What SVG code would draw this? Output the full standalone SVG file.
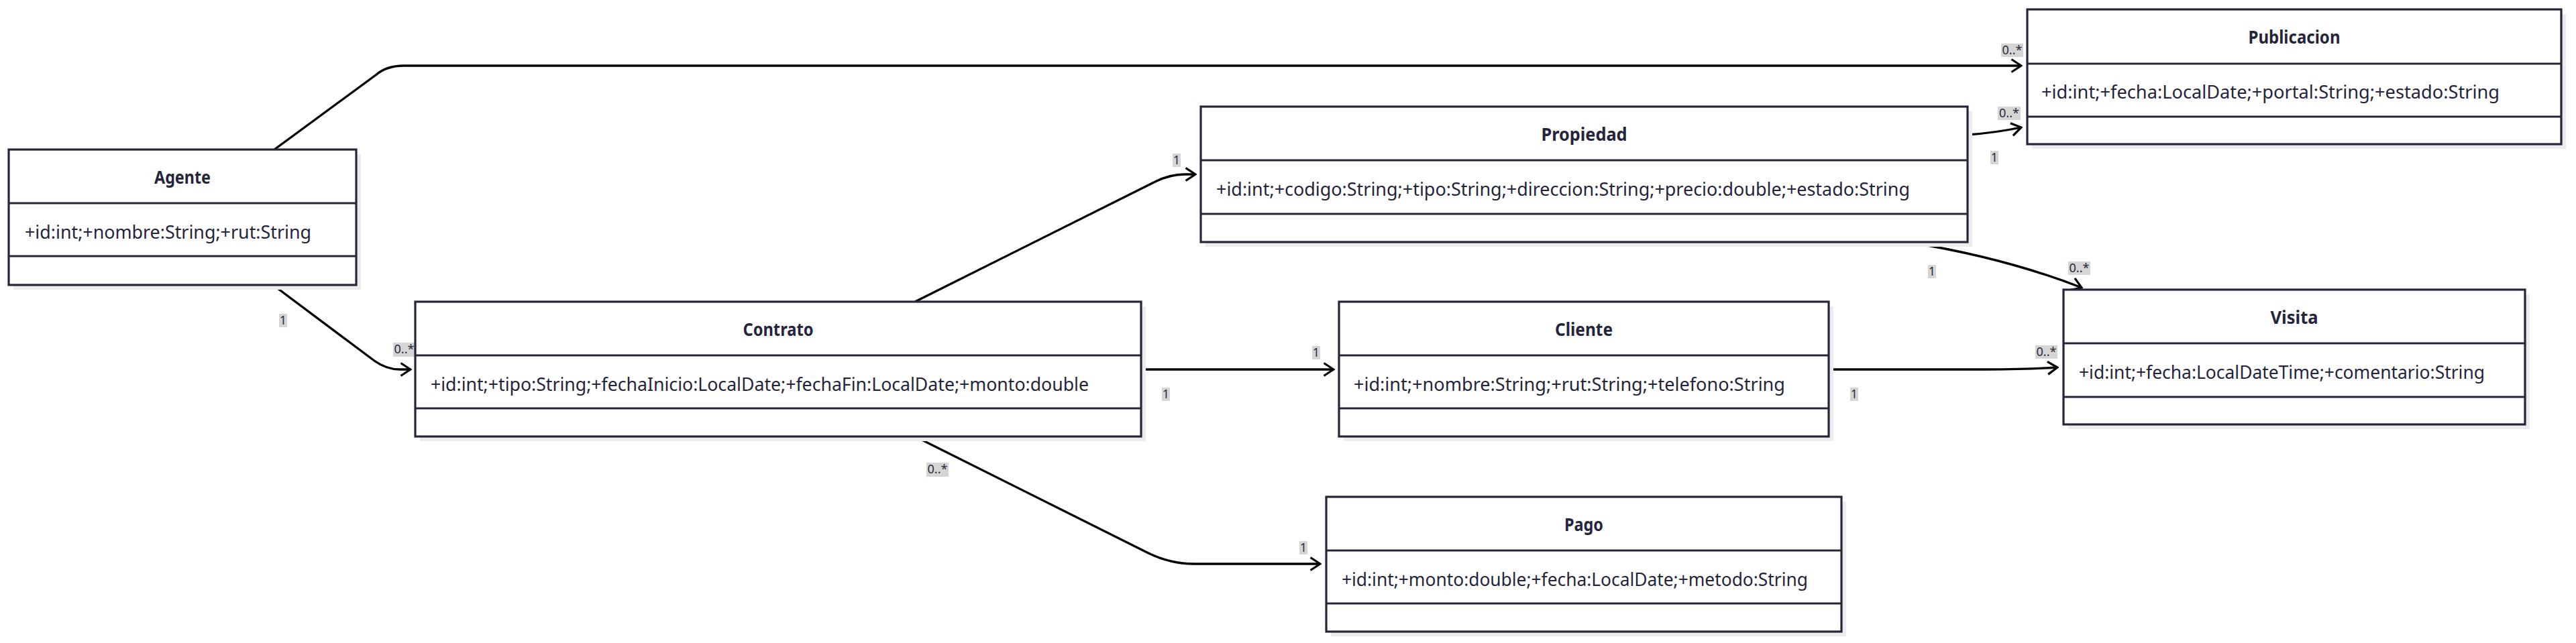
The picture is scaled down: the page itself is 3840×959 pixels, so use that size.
<svg xmlns="http://www.w3.org/2000/svg" width="3840" height="959" viewBox="0 0 3840 959">
<style>
.bg{fill:#ffffff}
.shadow{fill:#ececec}
.box{fill:#ffffff;stroke:#26263a;stroke-width:3.2}
.div{stroke:#26263a;stroke-width:3.2}
.title{font-family:"Noto Sans","Liberation Sans",sans-serif;font-weight:bold;font-size:27px;fill:#24243a;text-anchor:middle}
.mem{font-family:"Noto Sans","Liberation Sans",sans-serif;font-size:27px;fill:#24243a}
.edge{fill:none;stroke:#000000;stroke-width:3.3}
.lblbg{fill:#d5d5d5}
.lbl{font-family:"Noto Sans","Liberation Sans",sans-serif;font-size:18px;fill:#2a2a3a;text-anchor:middle}
</style>
<defs>
<marker id="arr" markerUnits="userSpaceOnUse" viewBox="0 0 18 22" refX="16" refY="11" markerWidth="18" markerHeight="22" orient="auto">
<path d="M1.5,1.5 L16,11 L1.5,20.5" fill="none" stroke="#000000" stroke-width="3.2"/>
</marker>
</defs>
<rect class="bg" x="0" y="0" width="3840" height="959"/>

<g id="connectors">
<path class="edge" marker-end="url(#arr)" d="M409,223 L560,112 Q576,98 602,98 L3013,98"/>
<path class="edge" marker-end="url(#arr)" d="M407,425 L558,538 Q576,551 596,551 L612,551"/>
<path class="edge" marker-end="url(#arr)" d="M1364,450 L1722,271 Q1744,260 1766,260 L1782,260"/>
<path class="edge" marker-end="url(#arr)" d="M1701,551 L1988,551"/>
<path class="edge" marker-end="url(#arr)" d="M1364,651 L1712,825 Q1745,841 1780,841 L1968,841"/>
<path class="edge" marker-end="url(#arr)" d="M2933,201 Q2975,198 3013,190"/>
<path class="edge" marker-end="url(#arr)" d="M2850,362 Q2990,385 3103,429"/>
<path class="edge" marker-end="url(#arr)" d="M2727,551 L2960,551 Q3020,551 3067,548"/>
</g>

<g id="labels">
<rect class="lblbg" x="2983" y="65" width="33" height="20"/><text class="lbl" x="2999.5" y="81" textLength="30" lengthAdjust="spacingAndGlyphs">0..*</text>
<rect class="lblbg" x="2978" y="159" width="34" height="20"/><text class="lbl" x="2995" y="175" textLength="30" lengthAdjust="spacingAndGlyphs">0..*</text>
<rect class="lblbg" x="2967" y="225" width="12" height="20"/><text class="lbl" x="2973" y="241">1</text>
<rect class="lblbg" x="1748" y="229" width="12" height="20"/><text class="lbl" x="1754" y="245">1</text>
<rect class="lblbg" x="2874" y="395" width="12" height="20"/><text class="lbl" x="2880" y="411">1</text>
<rect class="lblbg" x="3083" y="390" width="33" height="20"/><text class="lbl" x="3099.5" y="406" textLength="30" lengthAdjust="spacingAndGlyphs">0..*</text>
<rect class="lblbg" x="3034" y="515" width="33" height="20"/><text class="lbl" x="3050.5" y="531" textLength="30" lengthAdjust="spacingAndGlyphs">0..*</text>
<rect class="lblbg" x="2758" y="578" width="12" height="20"/><text class="lbl" x="2764" y="594">1</text>
<rect class="lblbg" x="416" y="468" width="12" height="20"/><text class="lbl" x="422" y="484">1</text>
<rect class="lblbg" x="586" y="511" width="33" height="21"/><text class="lbl" x="602.5" y="527" textLength="30" lengthAdjust="spacingAndGlyphs">0..*</text>
<rect class="lblbg" x="1956" y="516" width="12" height="20"/><text class="lbl" x="1962" y="532">1</text>
<rect class="lblbg" x="1732" y="578" width="12" height="20"/><text class="lbl" x="1738" y="594">1</text>
<rect class="lblbg" x="1381" y="690" width="33" height="21"/><text class="lbl" x="1397.5" y="706" textLength="30" lengthAdjust="spacingAndGlyphs">0..*</text>
<rect class="lblbg" x="1937" y="807" width="12" height="20"/><text class="lbl" x="1943" y="823">1</text>
</g>

<g id="Agente">
<rect class="shadow" x="20" y="230" width="518" height="202"/>
<rect class="box" x="13" y="223" width="518" height="202"/>
<line class="div" x1="13" y1="303" x2="531" y2="303"/>
<line class="div" x1="13" y1="382" x2="531" y2="382"/>
<text class="title" x="272" y="274" textLength="84" lengthAdjust="spacingAndGlyphs">Agente</text>
<text class="mem" x="37" y="356" textLength="427" lengthAdjust="spacingAndGlyphs">+id:int;+nombre:String;+rut:String</text>
</g>

<g id="Contrato">
<rect class="shadow" x="626" y="457" width="1082" height="201"/>
<rect class="box" x="619" y="450" width="1082" height="201"/>
<line class="div" x1="619" y1="530" x2="1701" y2="530"/>
<line class="div" x1="619" y1="609" x2="1701" y2="609"/>
<text class="title" x="1160" y="501" textLength="105" lengthAdjust="spacingAndGlyphs">Contrato</text>
<text class="mem" x="642" y="583" textLength="981" lengthAdjust="spacingAndGlyphs">+id:int;+tipo:String;+fechaInicio:LocalDate;+fechaFin:LocalDate;+monto:double</text>
</g>

<g id="Propiedad">
<rect class="shadow" x="1797" y="166" width="1143" height="202"/>
<rect class="box" x="1790" y="159" width="1143" height="202"/>
<line class="div" x1="1790" y1="239" x2="2933" y2="239"/>
<line class="div" x1="1790" y1="319" x2="2933" y2="319"/>
<text class="title" x="2361.5" y="210" textLength="128" lengthAdjust="spacingAndGlyphs">Propiedad</text>
<text class="mem" x="1813" y="292" textLength="1034" lengthAdjust="spacingAndGlyphs">+id:int;+codigo:String;+tipo:String;+direccion:String;+precio:double;+estado:String</text>
</g>

<g id="Publicacion">
<rect class="shadow" x="3029" y="21" width="796" height="201"/>
<rect class="box" x="3022" y="14" width="796" height="201"/>
<line class="div" x1="3022" y1="95" x2="3818" y2="95"/>
<line class="div" x1="3022" y1="174" x2="3818" y2="174"/>
<text class="title" x="3420" y="65" textLength="137" lengthAdjust="spacingAndGlyphs">Publicacion</text>
<text class="mem" x="3043" y="147" textLength="683" lengthAdjust="spacingAndGlyphs">+id:int;+fecha:LocalDate;+portal:String;+estado:String</text>
</g>

<g id="Cliente">
<rect class="shadow" x="2003" y="457" width="730" height="201"/>
<rect class="box" x="1996" y="450" width="730" height="201"/>
<line class="div" x1="1996" y1="530" x2="2726" y2="530"/>
<line class="div" x1="1996" y1="609" x2="2726" y2="609"/>
<text class="title" x="2361" y="501" textLength="86" lengthAdjust="spacingAndGlyphs">Cliente</text>
<text class="mem" x="2018" y="583" textLength="643" lengthAdjust="spacingAndGlyphs">+id:int;+nombre:String;+rut:String;+telefono:String</text>
</g>

<g id="Visita">
<rect class="shadow" x="3083" y="439" width="688" height="201"/>
<rect class="box" x="3076" y="432" width="688" height="201"/>
<line class="div" x1="3076" y1="512" x2="3764" y2="512"/>
<line class="div" x1="3076" y1="592" x2="3764" y2="592"/>
<text class="title" x="3420" y="483" textLength="71" lengthAdjust="spacingAndGlyphs">Visita</text>
<text class="mem" x="3099" y="565" textLength="605" lengthAdjust="spacingAndGlyphs">+id:int;+fecha:LocalDateTime;+comentario:String</text>
</g>

<g id="Pago">
<rect class="shadow" x="1984" y="748" width="768" height="201"/>
<rect class="box" x="1977" y="741" width="768" height="201"/>
<line class="div" x1="1977" y1="821" x2="2745" y2="821"/>
<line class="div" x1="1977" y1="900" x2="2745" y2="900"/>
<text class="title" x="2361" y="792" textLength="58" lengthAdjust="spacingAndGlyphs">Pago</text>
<text class="mem" x="2000" y="874" textLength="695" lengthAdjust="spacingAndGlyphs">+id:int;+monto:double;+fecha:LocalDate;+metodo:String</text>
</g>
</svg>
